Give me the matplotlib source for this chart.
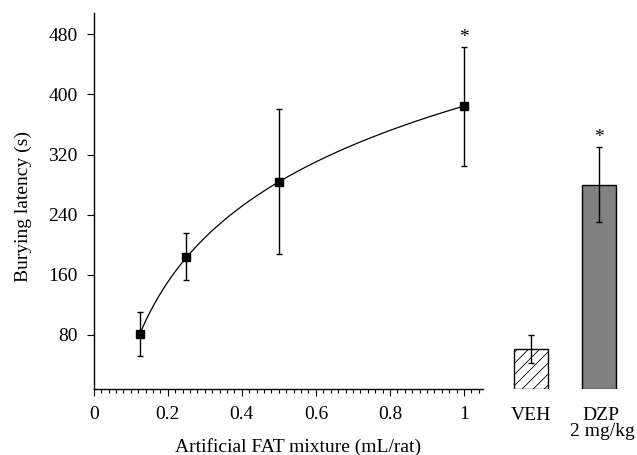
import numpy as np
import matplotlib
matplotlib.use("Agg")
import matplotlib.pyplot as plt
from matplotlib.ticker import FixedLocator
import matplotlib.transforms as mtransforms

# ---- data ----
doses = [0.125, 0.25, 0.5, 1.0]
latency = [81, 184, 284, 384]
latency_err = [29, 31, 97, 79]
dose_signif = [False, False, False, True]

bar_labels = ["VEH", "DZP\n2 mg/kg"]
bar_values = [61, 280]
bar_err = [19, 50]
bar_signif = [False, True]

y_ticks = [80, 160, 240, 320, 400, 480]
x_ticks = [0, 0.2, 0.4, 0.6, 0.8, 1]
x_ticklabels = ["0", "0.2", "0.4", "0.6", "0.8", "1"]

plt.rcParams['font.family'] = ['Liberation Serif', 'DejaVu Serif']
plt.rcParams['hatch.linewidth'] = 0.6
FS = 14

fig = plt.figure(figsize=(6.37, 4.55), dpi=100)
W, H = 637, 455
x0_px, x1_px = 93.7, 464.0
unit = x1_px - x0_px
xmax = 1.43
ax_h_px = 389 - 13.3
ax = fig.add_axes([x0_px / W, (H - 389) / H, xmax * unit / W, ax_h_px / H])
ax.set_xlim(0, xmax)
ax.set_ylim(8, 508)

# fitted log trend line through the dose-response means
coef = np.polyfit(np.log(doses), latency, 1)
xs = np.linspace(doses[0], doses[-1], 300)
ax.plot(xs, np.polyval(coef, np.log(xs)), color='black', lw=0.9, zorder=2)

ax.errorbar(doses, latency, yerr=latency_err, fmt='s', color='black',
            ms=6, elinewidth=1.0, capsize=2.2, capthick=1.0, zorder=3)

for x, y, e, s in zip(doses, latency, latency_err, dose_signif):
    if s:
        ax.text(x, y + e + 1, "*", ha='center', va='bottom', fontsize=FS)

# bars
bar_pos = [1.181, 1.365]
bw = 0.09
ax.bar(bar_pos[0], bar_values[0] - 8, bottom=8, width=bw, facecolor='white',
       edgecolor='black', hatch='///', lw=1.0, zorder=2)
ax.bar(bar_pos[1], bar_values[1] - 8, bottom=8, width=bw, facecolor='#808080',
       edgecolor='black', lw=1.0, zorder=2)
ax.errorbar(bar_pos, bar_values, yerr=bar_err, fmt='none', ecolor='black',
            elinewidth=1.0, capsize=2.2, capthick=1.0, zorder=3)
for x, y, e, s in zip(bar_pos, bar_values, bar_err, bar_signif):
    if s:
        ax.text(x, y + e + 1, "*", ha='center', va='bottom', fontsize=FS)

trans = mtransforms.blended_transform_factory(ax.transData, ax.transAxes)
ax.text(bar_pos[0], -26.7 / ax_h_px, bar_labels[0].split("\n")[0], transform=trans,
        ha='center', va='center', fontsize=FS)
ax.text(bar_pos[1] + 0.005, -26.7 / ax_h_px, bar_labels[1].split("\n")[0], transform=trans,
        ha='center', va='center', fontsize=FS)
ax.text(bar_pos[1] + 0.008, -42.7 / ax_h_px, bar_labels[1].split("\n")[1], transform=trans,
        ha='center', va='center', fontsize=FS)

# axes styling
for s in ['top', 'right']:
    ax.spines[s].set_visible(False)
ax.spines['bottom'].set_bounds(0, 1.05)
ax.spines['left'].set_linewidth(1.0)
ax.spines['bottom'].set_linewidth(1.0)

ax.set_xticks(x_ticks)
ax.set_xticklabels(x_ticklabels)
ax.xaxis.set_minor_locator(FixedLocator(np.arange(0.02, 1.05, 0.02)))
ax.set_yticks(y_ticks)
ax.tick_params(axis='both', which='major', direction='out', length=5, width=0.8,
               labelsize=FS)
ax.tick_params(axis='x', which='major', pad=7)
ax.tick_params(axis='y', which='major', pad=6.5)
ax.tick_params(axis='x', which='minor', direction='out', length=3, width=0.8)

ax.set_xlabel("Artificial FAT mixture (mL/rat)", fontsize=FS, va='center')
ax.xaxis.set_label_coords(0.385, -(447 - 389) / ax_h_px)
ax.set_ylabel("Burying latency (s)", fontsize=FS, va='center')
ax.yaxis.set_label_coords((23 - x0_px) / (xmax * unit), (389 - 207) / ax_h_px)

fig.savefig("out.png", dpi=100)
